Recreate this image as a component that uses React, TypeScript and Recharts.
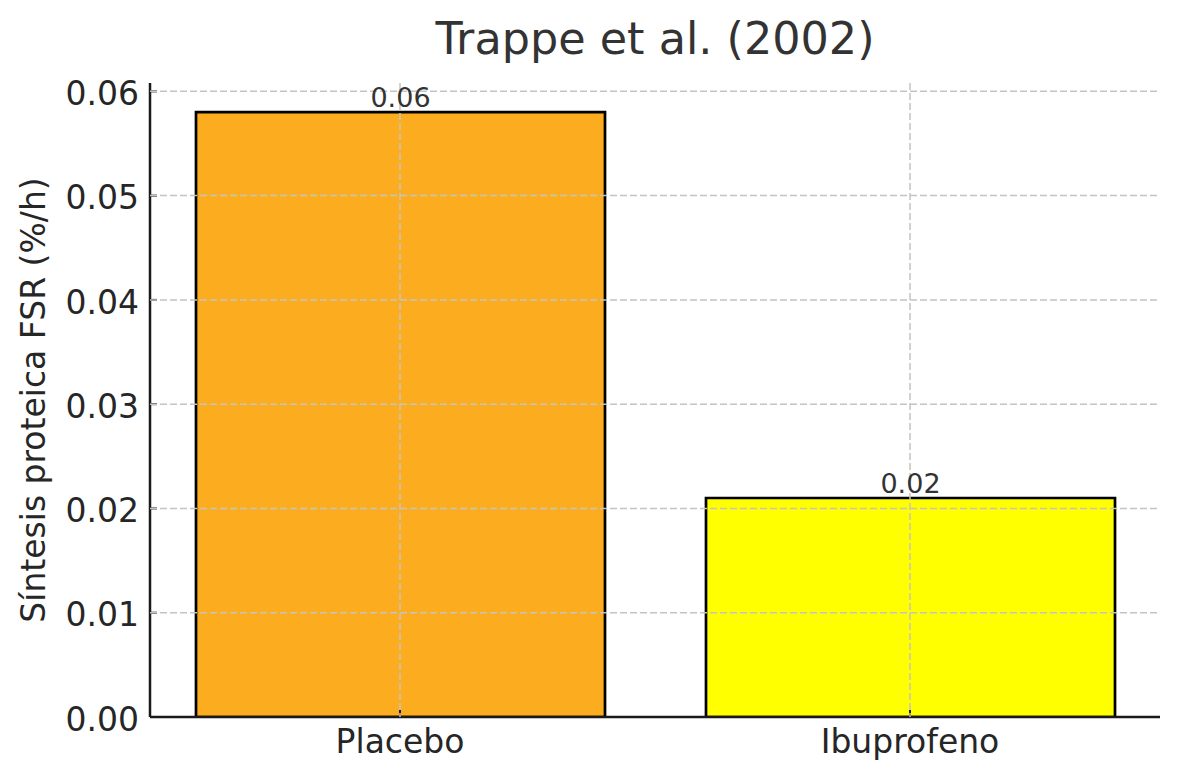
import { BarChart, Bar, XAxis, YAxis, CartesianGrid, Cell, LabelList } from "recharts";

const groups = ["Placebo", "Ibuprofeno"];
const fsrValues = [0.058, 0.021];
const barColors = ["#FBAD1F", "#FFFF00"];
const yTicks = [0, 0.01, 0.02, 0.03, 0.04, 0.05, 0.06];

const data = groups.map((name, i) => ({ name, fsr: fsrValues[i] }));

const FONT = "'DejaVu Sans', sans-serif";

export default function App() {
  return (
    <div style={{ position: "absolute", left: 0, top: 0, width: 1180, height: 780, background: "#fff", fontFamily: FONT }}>
      <BarChart
        width={1180}
        height={780}
        data={data}
        margin={{ top: 83, right: 20, left: 0, bottom: 0 }}
      >
        <XAxis
          dataKey="name"
          height={63}
          padding={{ left: -5, right: -5 }}
          axisLine={{ stroke: "#1a1a1a", strokeWidth: 2.5 }}
          tickLine={{ stroke: "#1a1a1a", strokeWidth: 2 }}
          tickSize={-7}
          tickMargin={20}
          tick={{ fontSize: 33, fill: "#262626" }}
        />
        <YAxis
          width={150}
          domain={[0, 0.0608]}
          ticks={yTicks}
          allowDataOverflow
          tickFormatter={(v: number) => v.toFixed(2)}
          axisLine={{ stroke: "#1a1a1a", strokeWidth: 2.5 }}
          tickLine={{ stroke: "#1a1a1a", strokeWidth: 2 }}
          tickSize={-7}
          tickMargin={18}
          tick={{ fontSize: 33, fill: "#262626", dy: 2 }}
        />
        <Bar dataKey="fsr" barSize={409} stroke="#000" strokeWidth={2.7} isAnimationActive={false}>
          {data.map((d, i) => (
            <Cell key={d.name} fill={barColors[i]} />
          ))}
          <LabelList
            dataKey="fsr"
            position="top"
            formatter={(v: number) => v.toFixed(2)}
            style={{ fontSize: 27, fill: "#333" }}
          />
        </Bar>
        <CartesianGrid
          zIndex={500}
          stroke="#c4c4c4"
          strokeWidth={1.5}
          strokeDasharray="7 3"
          horizontalValues={yTicks.filter((t) => t > 0)}
          verticalValues={groups}
        />
      </BarChart>
      <svg width={1180} height={780} style={{ position: "absolute", left: 0, top: 0, pointerEvents: "none" }}>
        <text x={655} y={54} textAnchor="middle" fontSize={44.5} fill="#333" fontFamily={FONT}>
          Trappe et al. (2002)
        </text>
        <text
          x={45}
          y={400}
          transform="rotate(-90 45 400)"
          textAnchor="middle"
          fontSize={33}
          fill="#262626"
          fontFamily={FONT}
        >
          Síntesis proteica FSR (%/h)
        </text>
      </svg>
    </div>
  );
}
